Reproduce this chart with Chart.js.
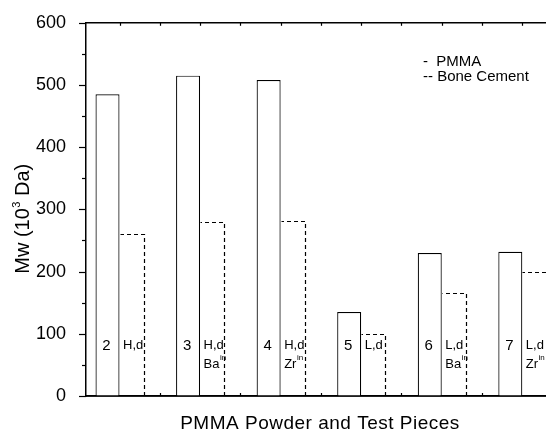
<!DOCTYPE html>
<html>
<head>
<meta charset="utf-8">
<script src="https://cdn.jsdelivr.net/npm/chart.js@4.4.1/dist/chart.umd.min.js"></script>
<style>
  html, body { margin: 0; padding: 0; background: #fff; }
  canvas { display: block; }
</style>
</head>
<body>
<canvas id="chart" width="546" height="432"></canvas>
<script>
// sample positions along x and their printed numbers
var samples = [1, 2, 3, 4, 5, 6];
var sampleNames = ['2', '3', '4', '5', '6', '7'];
var powderType = ['H,d', 'H,d', 'H,d', 'L,d', 'L,d', 'L,d'];
var radiopacifier = ['', 'Ba', 'Zr', '', 'Ba', 'Zr'];

// Mw in 10^3 Da
var pmmaMw = [485, 515, 508, 135, 230, 232];
var cementMw = [260, 280, 281, 100, 165, 199];

var legendLabels = ['-  PMMA', '-- Bone Cement'];
var FONT = "'Liberation Sans', Arial, sans-serif";

function points(values) {
  return samples.map(function (s, i) { return { x: s, y: values[i] }; });
}

function barBox(el) {
  var p = el.getProps(['x', 'y', 'base', 'width'], true);
  return { left: p.x - p.width / 2, right: p.x + p.width / 2, top: p.y, base: p.base };
}

// dashed outline for bone cement bars + labels inside the bars
var barDecor = {
  id: 'barDecor',
  afterDatasetsDraw: function (chart) {
    var ctx = chart.ctx;
    var area = chart.chartArea;
    var yBase = chart.scales.y.getPixelForValue(0);
    var solid = chart.getDatasetMeta(0).data;
    var dashed = chart.getDatasetMeta(1).data;

    ctx.save();
    ctx.strokeStyle = '#000';
    ctx.lineWidth = 1.2;
    ctx.setLineDash([4, 3]);
    dashed.forEach(function (el) {
      var b = barBox(el);
      var l = Math.round(b.left) + 0.5, r = Math.round(b.right) + 0.5, t = Math.round(b.top) + 0.5;
      ctx.beginPath();
      if (r < area.right - 1) {
        ctx.moveTo(r, b.base);
        ctx.lineTo(r, t);
      } else {
        ctx.moveTo(area.right, t);
      }
      ctx.lineTo(l, t);
      ctx.stroke();
    });
    ctx.setLineDash([]);

    ctx.fillStyle = '#000';
    ctx.textBaseline = 'alphabetic';
    solid.forEach(function (el, i) {
      var b = barBox(el);
      ctx.font = '15px ' + FONT;
      ctx.textAlign = 'center';
      ctx.fillText(sampleNames[i], (b.left + b.right) / 2 - 1, yBase - 46);
    });
    dashed.forEach(function (el, i) {
      var b = barBox(el);
      var x = b.left + 3.5;
      ctx.textAlign = 'left';
      ctx.font = '13px ' + FONT;
      ctx.fillText(powderType[i], x, yBase - 47);
      if (radiopacifier[i]) {
        ctx.fillText(radiopacifier[i], x, yBase - 28);
        var w = ctx.measureText(radiopacifier[i]).width;
        ctx.font = '8px ' + FONT;
        ctx.fillText('in', x + w + 0.5, yBase - 36);
      }
    });
    ctx.restore();
  }
};

// frame pieces, tick marks, titles and the text legend
var frameDecor = {
  id: 'frameDecor',
  afterDraw: function (chart) {
    var ctx = chart.ctx;
    var a = chart.chartArea;
    var xs = chart.scales.x, ys = chart.scales.y;
    ctx.save();
    ctx.strokeStyle = '#000';
    ctx.lineWidth = 1.5;

    // top border and base line (redrawn over the white bar fills)
    ctx.beginPath();
    ctx.moveTo(a.left - 1, a.top);
    ctx.lineTo(a.right, a.top);
    ctx.moveTo(a.left - 1, a.bottom);
    ctx.lineTo(a.right, a.bottom);
    ctx.stroke();

    // y ticks (outward), minor every 50
    ctx.lineWidth = 1.2;
    for (var v = 0; v <= 600; v += 50) {
      var py = Math.round(ys.getPixelForValue(v)) + 0.5;
      var len = v % 100 === 0 ? 7 : 4;
      ctx.beginPath();
      ctx.moveTo(a.left, py);
      ctx.lineTo(a.left - len, py);
      ctx.stroke();
    }
    // x ticks at sample boundaries (inward), top ticks every half step
    for (var s = 0.5; s <= xs.max; s += 0.5) {
      var px = Math.round(xs.getPixelForValue(s)) + 0.5;
      if (px <= a.left + 2 || px >= a.right) continue;
      if (s % 1 === 0.5) {
        ctx.beginPath();
        ctx.moveTo(px, a.bottom);
        ctx.lineTo(px, a.bottom - 3);
        ctx.stroke();
      }
      ctx.beginPath();
      ctx.moveTo(px, a.top);
      ctx.lineTo(px, a.top + 3);
      ctx.stroke();
    }

    ctx.fillStyle = '#000';
    // x title
    ctx.font = '19px ' + FONT;
    ctx.textAlign = 'center';
    ctx.textBaseline = 'alphabetic';
    ctx.letterSpacing = '0.5px';
    ctx.fillText('PMMA Powder and Test Pieces', 320, 429);
    ctx.letterSpacing = '0px';

    // y title with superscript
    ctx.save();
    ctx.translate(29, 219);
    ctx.rotate(-Math.PI / 2);
    var p1 = 'Mw (10', p2 = '3', p3 = ' Da)';
    ctx.font = '20px ' + FONT;
    var w1 = ctx.measureText(p1).width, w3 = ctx.measureText(p3).width;
    ctx.font = '11px ' + FONT;
    var w2 = ctx.measureText(p2).width;
    var x0 = -(w1 + w2 + w3) / 2;
    ctx.textAlign = 'left';
    ctx.font = '20px ' + FONT;
    ctx.fillText(p1, x0, 0);
    ctx.font = '11px ' + FONT;
    ctx.fillText(p2, x0 + w1 + 0.5, -9);
    ctx.font = '20px ' + FONT;
    ctx.fillText(p3, x0 + w1 + w2 + 0.5, 0);
    ctx.restore();

    // legend as plain text
    ctx.font = '15px ' + FONT;
    ctx.textAlign = 'left';
    ctx.fillText(legendLabels[0], 423, 66);
    ctx.fillText(legendLabels[1], 423, 81);
    ctx.restore();
  }
};

new Chart(document.getElementById('chart'), {
  type: 'bar',
  data: {
    datasets: [
      {
        label: 'PMMA',
        data: points(pmmaMw),
        backgroundColor: '#fff',
        borderColor: '#000',
        borderWidth: 1.2,
        borderSkipped: 'start'
      },
      {
        label: 'Bone Cement',
        data: points(cementMw),
        backgroundColor: 'rgba(255,255,255,0)',
        borderWidth: 0
      }
    ]
  },
  options: {
    responsive: false,
    devicePixelRatio: 1,
    animation: false,
    categoryPercentage: 0.596,
    barPercentage: 1,
    layout: { padding: { top: 21, right: 0, bottom: 0, left: 0 } },
    plugins: {
      legend: { display: false },
      tooltip: { enabled: false }
    },
    scales: {
      x: {
        type: 'linear',
        offset: false,
        min: 0.584,
        max: 6.294,
        ticks: { display: false },
        grid: { display: false, offset: false },
        border: { display: true, color: '#000', width: 1.5 },
        afterFit: function (scale) { scale.height = 36; }
      },
      y: {
        min: 0,
        max: 600,
        ticks: {
          stepSize: 100,
          padding: 12,
          color: '#000',
          font: { family: FONT, size: 18 }
        },
        grid: { display: false },
        border: { display: true, color: '#000', width: 1.5 },
        afterFit: function (scale) { scale.width = 86; }
      }
    }
  },
  plugins: [barDecor, frameDecor]
});
</script>
</body>
</html>
